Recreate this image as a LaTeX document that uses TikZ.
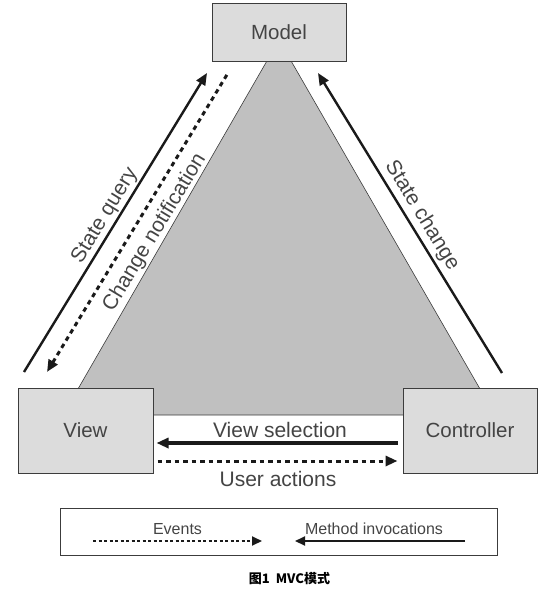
\documentclass[tikz,border=0pt]{standalone}
\usepackage{fontspec}
\setmainfont{Liberation Sans}
\newfontfamily\cjk{Noto Sans CJK SC}
\usetikzlibrary{arrows.meta}
\definecolor{boxfill}{HTML}{DCDCDC}
\definecolor{trifill}{HTML}{C0C0C0}
\definecolor{boxline}{HTML}{3C3C3C}
\definecolor{labelgray}{HTML}{444444}
\definecolor{inkblack}{HTML}{1A1A1A}

\begin{document}
\begin{tikzpicture}[x=1pt,y=-1pt,
	>={Triangle[length=12pt,width=10pt]},
	box/.style={draw=boxline, line width=1pt, fill=boxfill, inner sep=0pt, text=labelgray, font=\fontsize{20.5}{24}\selectfont},
	lbl/.style={inner sep=0pt, text=labelgray, font=\fontsize{21}{24}\selectfont},
	keylbl/.style={inner sep=0pt, text=labelgray, font=\fontsize{16}{19}\selectfont},
	call/.style={draw=inkblack, line width=2.4pt},
	event/.style={draw=inkblack, line width=3pt, dash pattern=on 4.5pt off 4pt}]
	\useasboundingbox (0,0) rectangle (551,589);
	\filldraw[fill=trifill, draw=boxline, line width=0.6pt] (279,40) -- (495,415) -- (63,415) -- cycle; % triangle
	\node[box, minimum width=134pt, minimum height=58pt] (model) at (279,32) {Model};
	\node[box, minimum width=135pt, minimum height=85pt] (view) at (85.5,430.5) {View};
	\node[box, minimum width=134pt, minimum height=85pt] (controller) at (470,430.5) {Controller};
	\coordinate (query start) at (24,372);
	\coordinate (query end) at (207,73);
	\coordinate (notify start) at (228,73);
	\coordinate (notify end) at (47,372);
	\coordinate (change start) at (502,373);
	\coordinate (change end) at (318,73);
	\draw[->, call] (query start) -- (query end) node[lbl, sloped, midway, above=1.5pt] {State query};
	\draw[<-, event] (notify end) -- (notify start) node[lbl, sloped, midway, below=9pt] {Change notification};
	\draw[<-, call] (change end) -- (change start) node[lbl, sloped, midway, above=3pt] {State change};
	\draw[->, call, line width=3.4pt, shorten <=5pt, shorten >=3pt] ([yshift=-12.5pt]controller.west) -- ([yshift=-12.5pt]view.east) node[lbl, midway, above=3.5pt, xshift=2pt] {View selection};
	\draw[->, event, shorten <=4pt, shorten >=5pt] ([yshift=-30.5pt]view.east) -- ([yshift=-30.5pt]controller.west) node[lbl, midway, below=8.5pt] {User actions};
	% legend
	\node[draw=boxline, line width=1pt, minimum width=437pt, minimum height=47pt] (legend) at (278.5,531.5) {};
	\coordinate (events start) at (93,541);
	\coordinate (events end) at (262,541);
	\coordinate (method start) at (465,541);
	\coordinate (method end) at (295,541);
	\draw[->, event, line width=2pt, dash pattern=on 3pt off 2.5pt, >={Triangle[length=10pt,width=9pt]}] (events start) -- (events end) node[keylbl, midway, above=5pt] {Events};
	\draw[->, call, line width=2pt, >={Triangle[length=10pt,width=9pt]}] (method start) -- (method end) node[keylbl, midway, above=5pt, xshift=-6pt] {Method invocations};
	\node[font=\cjk\bfseries\fontsize{13}{15}\selectfont] (caption) at (289.5,579) {图1\ \ MVC模式};
\end{tikzpicture}
\end{document}
